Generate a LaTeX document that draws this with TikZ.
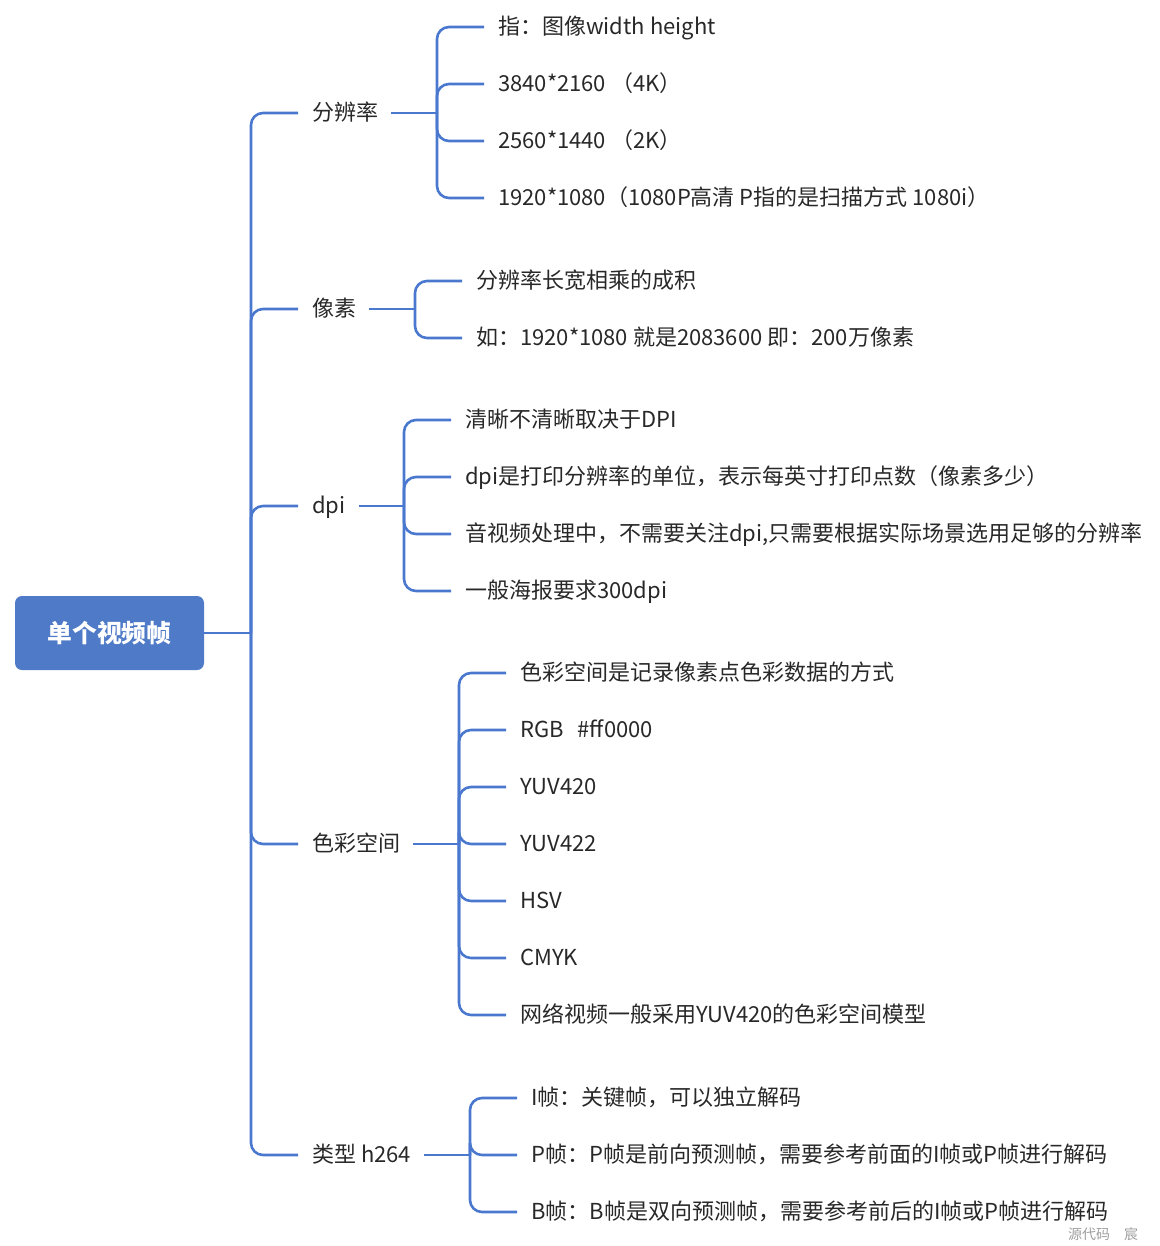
\documentclass[tikz,border=0pt]{standalone}
\usepackage{fontspec}
\newfontfamily\cjk{Noto Sans CJK SC}
\definecolor{lineblue}{RGB}{74,120,206}
\definecolor{rootfill}{RGB}{79,122,199}
\definecolor{textgray}{RGB}{40,40,40}
\begin{document}
\begin{tikzpicture}[x=1pt,y=-1pt,
  txt/.style={anchor=west, inner sep=0pt, text height=18.5pt, text depth=3pt,
    font=\cjk\fontsize{22}{26}\selectfont, text=textgray},
  rootbox/.style={fill=rootfill, rounded corners=7pt, minimum width=189pt,
    minimum height=74pt, inner sep=0pt, text=white,
    font=\cjk\bfseries\fontsize{24.8}{28}\selectfont},
  conn/.style={draw=lineblue, line width=2.6pt, rounded corners=12pt},
  wmark/.style={anchor=west, inner sep=0pt, text=gray!75,
    font=\cjk\fontsize{14}{16}\selectfont}]
\useasboundingbox (0,0) rectangle (1159,1246);

% root
\node[rootbox] (root) at (109.5,633) {单个视频帧};

% level 1
\node[txt] (a) at (312,113) {分辨率};
\node[txt] (b) at (312,309) {像素};
\node[txt] (c) at (312,506) {dpi};
\node[txt] (d) at (312,844) {色彩空间};
\node[txt] (e) at (312,1155) {类型 h264};

% 分辨率
\node[txt] (a1) at (498,27) {指：图像width height};
\node[txt] (a2) at (498,84) {3840*2160 （4K）};
\node[txt] (a3) at (498,141) {2560*1440 （2K）};
\node[txt] (a4) at (498,198) {1920*1080（1080P高清 P指的是扫描方式 1080i）};

% 像素
\node[txt] (b1) at (476,281) {分辨率长宽相乘的成积};
\node[txt] (b2) at (476,338) {如：1920*1080 就是2083600 即：200万像素};

% dpi
\node[txt] (c1) at (465,420) {清晰不清晰取决于DPI};
\node[txt] (c2) at (465,477) {dpi是打印分辨率的单位，表示每英寸打印点数（像素多少）};
\node[txt] (c3) at (465,534) {音视频处理中，不需要关注dpi,只需要根据实际场景选用足够的分辨率};
\node[txt] (c4) at (465,591) {一般海报要求300dpi};

% 色彩空间
\node[txt] (d1) at (520,673) {色彩空间是记录像素点色彩数据的方式};
\node[txt] (d2) at (520,730) {RGB\hspace{14pt}\#ff0000};
\node[txt] (d3) at (520,787) {YUV420};
\node[txt] (d4) at (520,844) {YUV422};
\node[txt] (d5) at (520,901) {HSV};
\node[txt] (d6) at (520,958) {CMYK};
\node[txt] (d7) at (520,1015) {网络视频一般采用YUV420的色彩空间模型};

% 类型 h264
\node[txt] (e1) at (531,1098) {I帧：关键帧，可以独立解码};
\node[txt] (e2) at (531,1155) {P帧：P帧是前向预测帧，需要参考前面的I帧或P帧进行解码};
\node[txt] (e3) at (531,1212) {B帧：B帧是双向预测帧，需要参考前后的I帧或P帧进行解码};

% watermark
\node[wmark] (wm) at (1068,1234) {源代码\hspace{14pt}宸};

% spines
\coordinate (s0) at (251,633);
\coordinate (sa) at (437,113);
\coordinate (sb) at (415,309);
\coordinate (sc) at (404,506);
\coordinate (sd) at (459,844);
\coordinate (se) at (470,1155);

% root connectors
\draw[conn] (root.east) -- (s0);
\foreach \n in {a,b,c,d,e}
  \draw[conn] (s0) |- ([xshift=-14pt]\n.west);

% level-1 to spines
\draw[conn] ([xshift=13pt]a.east) -- (sa);
\draw[conn] ([xshift=13pt]b.east) -- (sb);
\draw[conn] ([xshift=13pt]c.east) -- (sc);
\draw[conn] ([xshift=13pt]d.east) -- (sd);
\draw[conn] ([xshift=13pt]e.east) -- (se);

\foreach \n in {a1,a2,a3,a4}
  \draw[conn] (sa) |- ([xshift=-14pt]\n.west);
\foreach \n in {b1,b2}
  \draw[conn] (sb) |- ([xshift=-14pt]\n.west);
\foreach \n in {c1,c2,c3,c4}
  \draw[conn] (sc) |- ([xshift=-14pt]\n.west);
\foreach \n in {d1,d2,d3,d4,d5,d6,d7}
  \draw[conn] (sd) |- ([xshift=-14pt]\n.west);
\foreach \n in {e1,e2,e3}
  \draw[conn] (se) |- ([xshift=-14pt]\n.west);
\end{tikzpicture}
\end{document}
